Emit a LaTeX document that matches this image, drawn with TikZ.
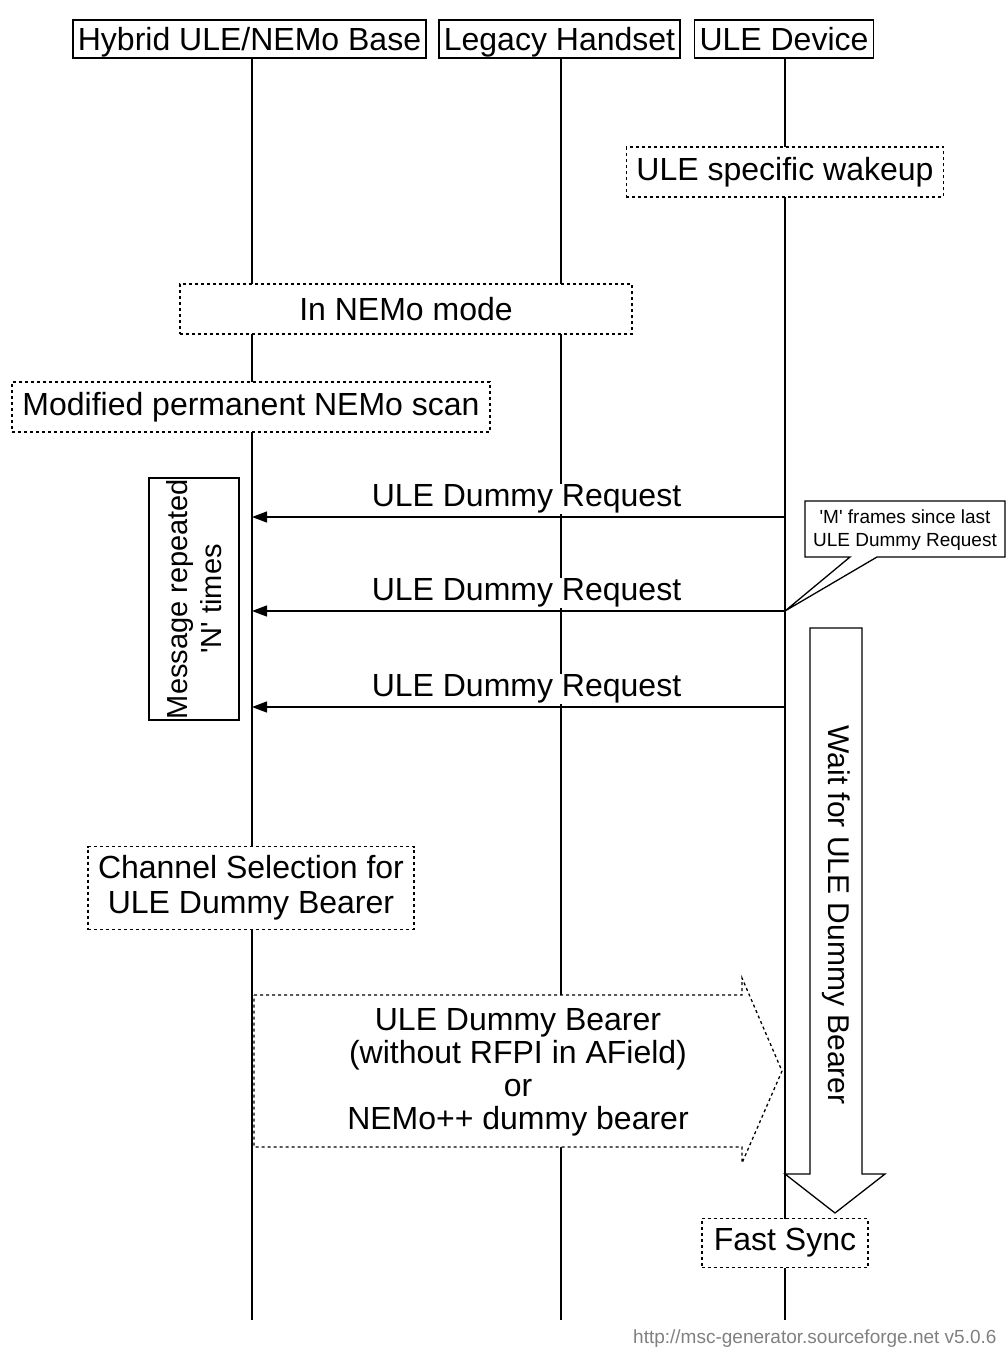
\documentclass[tikz,border=0pt]{standalone}
\usepackage{fontspec}
\setmainfont{Liberation Sans}[Ligatures=TeXOff]
\usepackage{tikz}
\usetikzlibrary{arrows.meta,positioning,calc}
\tikzset{
  entity/.style={rectangle, draw, fill=white, line width=1.3pt, inner xsep=5pt,
                 inner ysep=4pt, text height=26pt, text depth=4pt,
                 font=\fontsize{32}{36}\selectfont},
  lifeline/.style={line width=1.3pt},
  statebox/.style={rectangle, draw, dashed, dash pattern=on 3pt off 3pt, fill=white,
                   line width=1.3pt, inner xsep=10pt, minimum height=50pt, align=center,
                   font=\fontsize{32}{35}\selectfont},
  msg/.style={line width=1.3pt, -{Triangle[length=15pt,width=11pt]}},
  msglabel/.style={font=\fontsize{32}{36}\selectfont, fill=white, inner sep=1pt},
  blockdash/.style={draw, dash pattern=on 3pt off 3pt, fill=white, line width=1.3pt},
  blocksolid/.style={draw, fill=white, line width=1.3pt},
}
\begin{document}
\begin{tikzpicture}[x=1pt,y=-1pt]
  \useasboundingbox (0,0) rectangle (1008,1349);
  % Entities
  \node[entity] (base) at (249.5,39) {Hybrid ULE/NEMo Base};
  \node[entity] (legacy) at (559.5,39) {Legacy Handset};
  \node[entity] (ule) at (784,39) {ULE Device};
  % Lifelines
  \coordinate (baseend) at (252,1320);
  \coordinate (legacyend) at (561,1320);
  \coordinate (uleend) at (785,1320);
  \draw[lifeline] (base.south -| baseend) -- (baseend);
  \draw[lifeline] (legacy.south -| legacyend) -- (legacyend);
  \draw[lifeline] (ule.south -| uleend) -- (uleend);
  % States
  \node[statebox] (wakeup) at (785,172) {ULE specific wakeup};
  \node[statebox, minimum width=452pt] (nemo) at (406,309) {In NEMo mode};
  \node[statebox, minimum width=478pt] (scan) at (251,407) {Modified permanent NEMo scan};
  % Messages
  \foreach \i/\y in {1/517, 2/611, 3/707}{
    \coordinate (u\i) at (785,\y);
    \coordinate (b\i) at (252,\y);
    \draw[msg] (u\i) -- (b\i) node[msglabel, pos=0.485, above=2pt] (lbl\i) {ULE Dummy Request};
  }
  \node[draw, line width=1.3pt, rotate=90, minimum width=242pt, minimum height=90pt,
        align=center, inner sep=0pt, font=\fontsize{29}{34}\selectfont] (repeat) at (194,599)
        {Message repeated\\'N' times};
  % Note on second request
  \draw[blocksolid] (805,501) -- (1005,501) -- (1005,557) -- (877,557) -- (u2)
        -- (850,557) -- (805,557) -- cycle;
  \node[align=center, font=\fontsize{19}{23}\selectfont] (note) at (905,530)
        {'M' frames since last\\ULE Dummy Request};
  % Wait arrow
  \draw[blocksolid] (810,628) -- (862,628) -- (862,1174) -- (885,1174) -- (835,1213)
        -- (785,1174) -- (810,1174) -- cycle;
  \node[rotate=-90, font=\fontsize{30}{34}\selectfont] (wait) at (836,915)
        {Wait for ULE Dummy Bearer};
  % Channel selection
  \node[statebox, minimum height=83pt] (chsel) at (251,888)
        {Channel Selection for\\ULE Dummy Bearer};
  % Dummy bearer block arrow
  \draw[blockdash] (254,995) -- (742,995) -- (742,978) -- (782,1071) -- (742,1163)
        -- (742,1147) -- (254,1147) -- cycle;
  \node[align=center, font=\fontsize{32}{33}\selectfont] (bearer) at (518,1072)
        {ULE Dummy Bearer\\(without RFPI in AField)\\or\\NEMo++ dummy bearer};
  % Fast sync
  \node[statebox, minimum height=49pt, inner xsep=12pt] (sync) at (785,1243) {Fast Sync};
  % Footer
  \node[anchor=base west, text=gray, inner sep=0pt, font=\fontsize{19}{21}\selectfont]
        (footer) at (633,1343) {http://msc-generator.sourceforge.net v5.0.6};
\end{tikzpicture}
\end{document}
